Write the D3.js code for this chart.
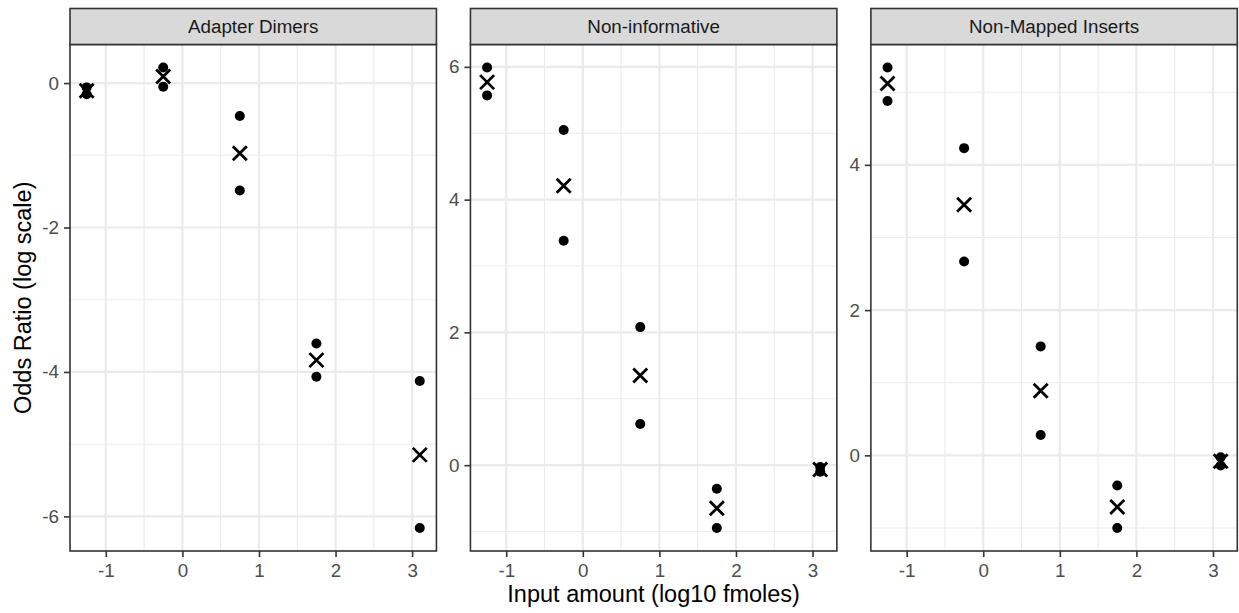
<!DOCTYPE html>
<html>
<head>
<meta charset="utf-8">
<script src="https://cdn.jsdelivr.net/npm/d3@7"></script>
<style>
  body { margin: 0; background: #fff; }
  svg { display: block; font-family: "Liberation Sans", Arial, sans-serif; }
</style>
</head>
<body>
<svg id="chart"></svg>
<script>
const w = 1239, h = 613;
const margin = { left: 70, right: 1.7, top: 8.5, bottom: 62, gap: 34 };
const stripH = 36;

// facet names and input amounts (log10 fmoles)
const facetNames = ['Adapter Dimers', 'Non-informative', 'Non-Mapped Inserts'];
const inputAmounts = [-1.25, -0.25, 0.75, 1.75, 3.1];
const xTicks = [-1, 0, 1, 2, 3];

// two replicates (dots) and the estimate (cross) per facet
const dimersRepA = [-0.06, 0.215, -0.456, -3.605, -4.126];
const dimersRepB = [-0.155, -0.05, -1.488, -4.066, -6.16];
const dimersEst = [-0.106, 0.09, -0.972, -3.836, -5.148];

const noninfRepA = [5.99, 5.05, 2.08, -0.355, -0.027];
const noninfRepB = [5.57, 3.38, 0.62, -0.946, -0.1];
const noninfEst = [5.77, 4.21, 1.35, -0.65, -0.065];

const unmappedRepA = [5.34, 4.23, 1.50, -0.416, -0.025];
const unmappedRepB = [4.88, 2.67, 0.28, -1.0, -0.14];
const unmappedEst = [5.12, 3.45, 0.89, -0.71, -0.08];

const yTicksByFacet = [[-6, -4, -2, 0], [0, 2, 4, 6], [0, 2, 4]];

const facetData = [
  [dimersRepA, dimersRepB, dimersEst],
  [noninfRepA, noninfRepB, noninfEst],
  [unmappedRepA, unmappedRepB, unmappedEst]
];

const chart = d3.select('#chart').attr('width', w).attr('height', h);

const panelW = (w - margin.left - margin.right - 2 * margin.gap) / 3;
const panelTop = margin.top + stripH;
const panelBottom = h - margin.bottom;

// ggplot style 5% expansion
const expand = ext => {
  const pad = (ext[1] - ext[0]) * 0.05;
  return [ext[0] - pad, ext[1] + pad];
};

// plain hyphen for negatives, like R does
const fmt = d => String(d);

const xDomain = expand(d3.extent(inputAmounts));

facetNames.forEach((name, i) => {
  const left = margin.left + i * (panelW + margin.gap);
  const [repA, repB, est] = facetData[i];

  const xScale = d3.scaleLinear().domain(xDomain).range([left, left + panelW]);
  const yScale = d3.scaleLinear()
    .domain(expand(d3.extent(repA.concat(repB, est))))
    .range([panelBottom, panelTop]);

  const g = chart.append('g');

  g.append('rect')
    .attr('x', left).attr('y', panelTop)
    .attr('width', panelW).attr('height', panelBottom - panelTop)
    .style('fill', '#fff');

  // minor grid between the major ticks
  const yt = yTicksByFacet[i];
  const yMinor = d3.range(Math.ceil(yScale.domain()[0]), Math.floor(yScale.domain()[1]) + 1)
    .filter(v => yt.indexOf(v) < 0);
  const xMinor = xTicks.map(v => v + 0.5).concat([xTicks[0] - 0.5])
    .filter(v => v > xDomain[0] && v < xDomain[1]);

  g.selectAll('.ymin').data(yMinor).enter().append('line')
    .attr('x1', left).attr('x2', left + panelW)
    .attr('y1', d => yScale(d)).attr('y2', d => yScale(d))
    .style('stroke', '#ebebeb').style('stroke-width', 1.1);
  g.selectAll('.xmin').data(xMinor).enter().append('line')
    .attr('y1', panelTop).attr('y2', panelBottom)
    .attr('x1', d => xScale(d)).attr('x2', d => xScale(d))
    .style('stroke', '#ebebeb').style('stroke-width', 1.1);

  g.selectAll('.ymaj').data(yt).enter().append('line')
    .attr('x1', left).attr('x2', left + panelW)
    .attr('y1', d => yScale(d)).attr('y2', d => yScale(d))
    .style('stroke', '#ebebeb').style('stroke-width', 2.2);
  g.selectAll('.xmaj').data(xTicks).enter().append('line')
    .attr('y1', panelTop).attr('y2', panelBottom)
    .attr('x1', d => xScale(d)).attr('x2', d => xScale(d))
    .style('stroke', '#ebebeb').style('stroke-width', 2.2);

  // replicate dots
  const dots = inputAmounts.map((x, k) => ({ x: x, y: repA[k] }))
    .concat(inputAmounts.map((x, k) => ({ x: x, y: repB[k] })));
  g.selectAll('.dot').data(dots).enter().append('circle')
    .attr('cx', d => xScale(d.x))
    .attr('cy', d => yScale(d.y))
    .attr('r', 5)
    .style('fill', '#000');

  // estimate crosses
  const s = 7;
  g.selectAll('.cross').data(inputAmounts.map((x, k) => ({ x: x, y: est[k] }))).enter()
    .append('path')
    .attr('d', d => {
      const cx = xScale(d.x), cy = yScale(d.y);
      return `M${cx - s},${cy - s}L${cx + s},${cy + s}M${cx - s},${cy + s}L${cx + s},${cy - s}`;
    })
    .style('stroke', '#000').style('stroke-width', 2.8).style('fill', 'none');

  // panel border
  g.append('rect')
    .attr('x', left).attr('y', panelTop)
    .attr('width', panelW).attr('height', panelBottom - panelTop)
    .style('fill', 'none').style('stroke', '#333').style('stroke-width', 1.6);

  // strip
  g.append('rect')
    .attr('x', left).attr('y', margin.top)
    .attr('width', panelW).attr('height', stripH)
    .style('fill', '#d9d9d9').style('stroke', '#333').style('stroke-width', 1.6);
  g.append('text')
    .attr('x', left + panelW / 2).attr('y', margin.top + stripH / 2)
    .attr('dy', '0.36em')
    .attr('text-anchor', 'middle')
    .style('font-size', '18.8px').style('fill', '#1a1a1a')
    .text(name);

  // axes
  const xAxis = g.append('g')
    .attr('transform', `translate(0, ${panelBottom})`)
    .call(d3.axisBottom(xScale).tickValues(xTicks).tickSize(6).tickPadding(6).tickFormat(fmt));
  const yAxis = g.append('g')
    .attr('transform', `translate(${left}, 0)`)
    .call(d3.axisLeft(yScale).tickValues(yt).tickSize(6).tickPadding(5).tickFormat(fmt));

  [xAxis, yAxis].forEach(ax => {
    ax.select('.domain').remove();
    ax.selectAll('line').style('stroke', '#333').style('stroke-width', 1.6);
    ax.selectAll('text')
      .style('font-size', '18.8px')
      .style('fill', '#4d4d4d')
      .style('font-family', '"Liberation Sans", Arial, sans-serif');
  });
  xAxis.selectAll('text').attr('dy', '0.75em');
});

// axis titles
chart.append('text')
  .attr('x', margin.left + (w - margin.left - margin.right) / 2)
  .attr('y', 602)
  .attr('text-anchor', 'middle')
  .style('font-size', '23.5px')
  .text('Input amount (log10 fmoles)');

chart.append('text')
  .attr('transform', `translate(31, ${(panelTop + panelBottom) / 2}) rotate(-90)`)
  .attr('text-anchor', 'middle')
  .style('font-size', '23.5px')
  .text('Odds Ratio (log scale)');
</script>
</body>
</html>
